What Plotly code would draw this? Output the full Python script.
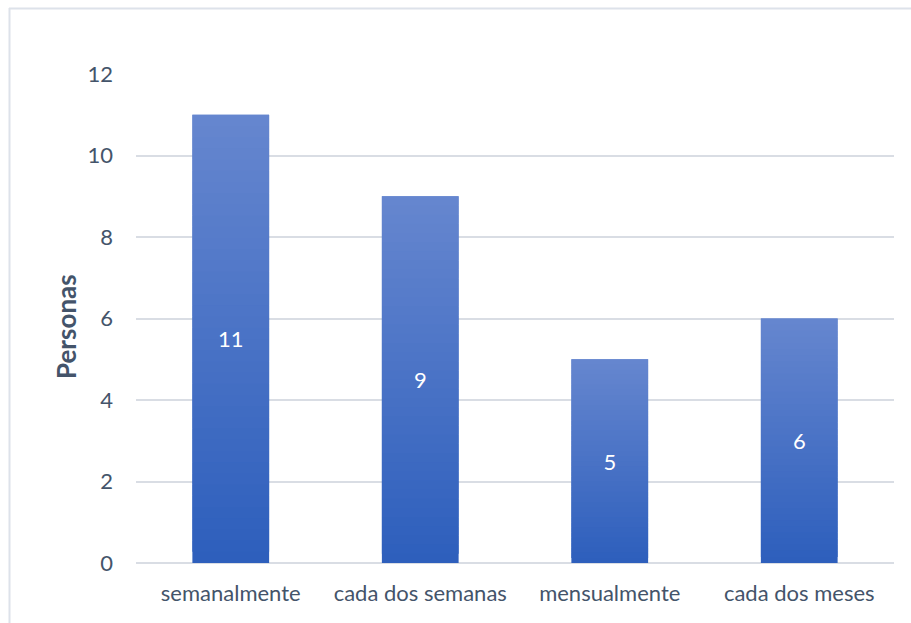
import plotly.graph_objects as go

# Frequency categories and number of people per category
categories = ["semanalmente", "cada dos semanas", "mensualmente", "cada dos meses"]
personas = [11, 9, 5, 6]
y_ticks = [0, 2, 4, 6, 8, 10, 12]

TOP_COLOR = (0x66, 0x87, 0xCF)
BOTTOM_COLOR = (0x2D, 0x5E, 0xBC)
N_SLICES = 40
TEXT_COLOR = "#44546A"
GRID_COLOR = "#D9DDE4"
FONT = "Lato"
TICK_SIZE = 22

W, H = 911, 623
ML, MR, MT, MB = 136, 17, 74, 60

fig = go.Figure()

# Vertical gradient: each bar is painted as slices from dark (base) to light (top);
# every slice reaches into the next one so no gaps show between them
for j in range(N_SLICES):
    t = (j + 0.5) / N_SLICES
    r, g, b = (round(BOTTOM_COLOR[k] + (TOP_COLOR[k] - BOTTOM_COLOR[k]) * t) for k in range(3))
    span = 2 if j < N_SLICES - 1 else 1
    fig.add_trace(go.Bar(
        x=categories,
        y=[v * span / N_SLICES for v in personas],
        base=[v * j / N_SLICES for v in personas],
        marker=dict(color=f"rgb({r},{g},{b})", line=dict(width=0)),
        width=0.405,
        hoverinfo="skip",
        showlegend=False,
    ))

# Transparent bar carrying the value labels
fig.add_trace(go.Bar(
    x=categories,
    y=personas,
    text=[str(v) for v in personas],
    textposition="inside",
    insidetextanchor="middle",
    textfont=dict(family=FONT, size=TICK_SIZE, color="white"),
    marker=dict(color="rgba(0,0,0,0)", line=dict(width=0)),
    width=0.405,
    showlegend=False,
))

# Pixel -> paper coordinate helpers
px_x = lambda p: (p - ML) / (W - ML - MR)
px_y = lambda p: (H - MB - p) / (H - MT - MB)

# Light frame around the chart
fig.add_shape(type="line", xref="paper", yref="paper",
              x0=px_x(9), x1=px_x(915), y0=px_y(8.5), y1=px_y(8.5),
              line=dict(color="#DDE2EA", width=2), layer="below")
fig.add_shape(type="line", xref="paper", yref="paper",
              x0=px_x(9.5), x1=px_x(9.5), y0=px_y(8), y1=px_y(630),
              line=dict(color="#DDE2EA", width=2), layer="below")

# Vertical axis title
fig.add_annotation(
    text="<b>Personas</b>", textangle=-90,
    xref="paper", yref="paper", x=px_x(66), y=px_y(327),
    xanchor="center", yanchor="middle", showarrow=False,
    font=dict(family=FONT, size=26, color=TEXT_COLOR),
)

fig.update_layout(
    width=W, height=H,
    margin=dict(l=ML, r=MR, t=MT, b=MB),
    barmode="overlay",
    plot_bgcolor="white",
    paper_bgcolor="white",
    font=dict(family=FONT, size=TICK_SIZE, color=TEXT_COLOR),
    xaxis=dict(
        showgrid=False,
        showline=False,
        ticks="",
        ticklabelstandoff=15,
        tickfont=dict(family=FONT, size=TICK_SIZE, color=TEXT_COLOR),
    ),
    yaxis=dict(
        range=[0, 12],
        tickvals=y_ticks,
        showgrid=True,
        gridcolor=GRID_COLOR,
        gridwidth=2,
        zeroline=True,
        zerolinecolor=GRID_COLOR,
        zerolinewidth=2,
        showline=False,
        ticks="",
        ticklabelstandoff=22,
        tickfont=dict(family=FONT, size=TICK_SIZE, color=TEXT_COLOR),
    ),
)

fig.write_html("out.html")
